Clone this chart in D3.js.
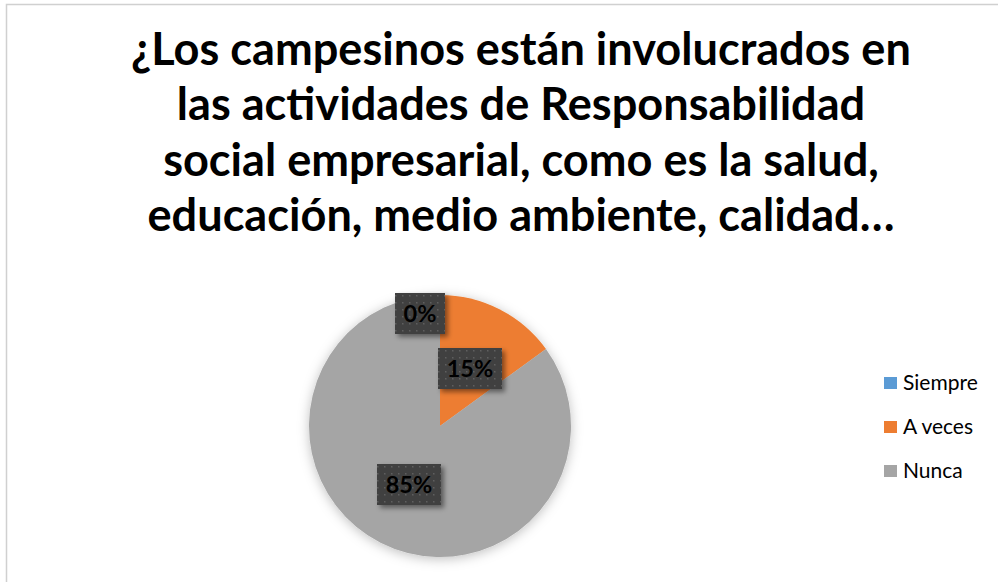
<!DOCTYPE html>
<html>
<head>
<meta charset="utf-8">
<script src="https://cdn.jsdelivr.net/npm/d3@7"></script>
<style>
  body { margin: 0; background: #fff; }
  svg { display: block; }
</style>
</head>
<body>
<div id="chart"></div>
<script>
// datos del grafico
var categorias = ["Siempre", "A veces", "Nunca"];
var valores = [0, 15, 85];
var colores = ["#5B9BD5", "#ED7D31", "#A5A5A5"];
var tituloLineas = [
  "¿Los campesinos están involucrados en",
  "las actividades de Responsabilidad",
  "social empresarial, como es la salud,",
  "educación, medio ambiente, calidad…"
];

var w = 998, h = 582;
var cx = 440, cy = 426, r = 131;
var fuente = "Lato, 'Open Sans', sans-serif";

var svg = d3.select("#chart").append("svg")
  .attr("width", w).attr("height", h);

var defs = svg.append("defs");
var pat = defs.append("pattern")
  .attr("id", "puntos").attr("patternUnits", "userSpaceOnUse")
  .attr("width", 7).attr("height", 7);
pat.append("rect").attr("width", 7).attr("height", 7).attr("fill", "#404040");
pat.append("rect").attr("x", 3).attr("y", 3).attr("width", 1.5).attr("height", 1.5).attr("fill", "#5e5e5e");

var sombra = defs.append("filter").attr("id", "sombra")
  .attr("x", "-30%").attr("y", "-30%").attr("width", "160%").attr("height", "160%");
sombra.append("feDropShadow").attr("dx", 3).attr("dy", 3)
  .attr("stdDeviation", 2.5).attr("flood-color", "#000").attr("flood-opacity", 0.45);

var sombraPie = defs.append("filter").attr("id", "sombraPie")
  .attr("x", "-20%").attr("y", "-20%").attr("width", "140%").attr("height", "140%");
sombraPie.append("feDropShadow").attr("dx", 0).attr("dy", 2)
  .attr("stdDeviation", 6).attr("flood-color", "#000").attr("flood-opacity", 0.25);

// borde del area
svg.append("rect")
  .attr("x", 6.5).attr("y", 4.5).attr("width", w + 10).attr("height", h + 10)
  .attr("fill", "#fff").attr("stroke", "#d0d0d0").attr("stroke-width", 1.5);

// titulo
var titulo = svg.append("g");
titulo.selectAll("text")
  .data(tituloLineas)
  .enter()
  .append("text")
  .attr("x", 521)
  .attr("y", function (d, i) { return 65 + i * 55.3; })
  .attr("text-anchor", "middle")
  .attr("font-family", fuente)
  .attr("font-weight", "bold")
  .attr("font-size", "36px")
  .attr("fill", "#000")
  .text(function (d) { return d; });
// ajustar ancho al de la referencia
var ancho0 = titulo.select("text").node().getComputedTextLength();
var escala = 780 / ancho0;
titulo.selectAll("text").attr("font-size", (36 * escala) + "px");

// pastel
var pie = d3.pie().sort(null).value(function (d) { return d; });
var arcos = pie(valores);
var arc = d3.arc().innerRadius(0).outerRadius(r);

var g = svg.append("g").attr("transform", "translate(" + cx + "," + cy + ")");
g.append("g").attr("filter", "url(#sombraPie)")
  .selectAll("path")
  .data(arcos)
  .enter()
  .append("path")
  .attr("d", arc)
  .attr("fill", function (d, i) { return colores[i]; });

// etiquetas
var posEtiquetas = [[-20, -113], [30, -58], [-31, 58]];
var etq = g.selectAll(".etq")
  .data(arcos)
  .enter()
  .append("g")
  .attr("class", "etq")
  .attr("transform", function (d, i) { return "translate(" + posEtiquetas[i][0] + "," + posEtiquetas[i][1] + ")"; });

etq.append("rect")
  .attr("x", function (d, i) { return i == 0 ? -25 : -32; })
  .attr("y", -20)
  .attr("width", function (d, i) { return i == 0 ? 50 : 64; })
  .attr("height", 41)
  .attr("fill", "url(#puntos)")
  .attr("filter", "url(#sombra)");

etq.append("text")
  .attr("text-anchor", "middle")
  .attr("y", 8.5)
  .attr("font-family", fuente)
  .attr("font-weight", "bold")
  .attr("font-size", "23.5px")
  .attr("fill", "#000")
  .text(function (d) { return d.data + "%"; });

// leyenda
var ley = svg.append("g");
var filas = ley.selectAll("g")
  .data(categorias)
  .enter()
  .append("g")
  .attr("transform", function (d, i) { return "translate(884," + (377 + i * 44) + ")"; });
filas.append("rect")
  .attr("width", 13).attr("height", 12)
  .attr("fill", function (d, i) { return colores[i]; });
filas.append("text")
  .attr("x", 19).attr("y", 13)
  .attr("font-family", fuente)
  .attr("font-size", "21px")
  .attr("fill", "#000")
  .text(function (d) { return d; });
</script>
</body>
</html>
